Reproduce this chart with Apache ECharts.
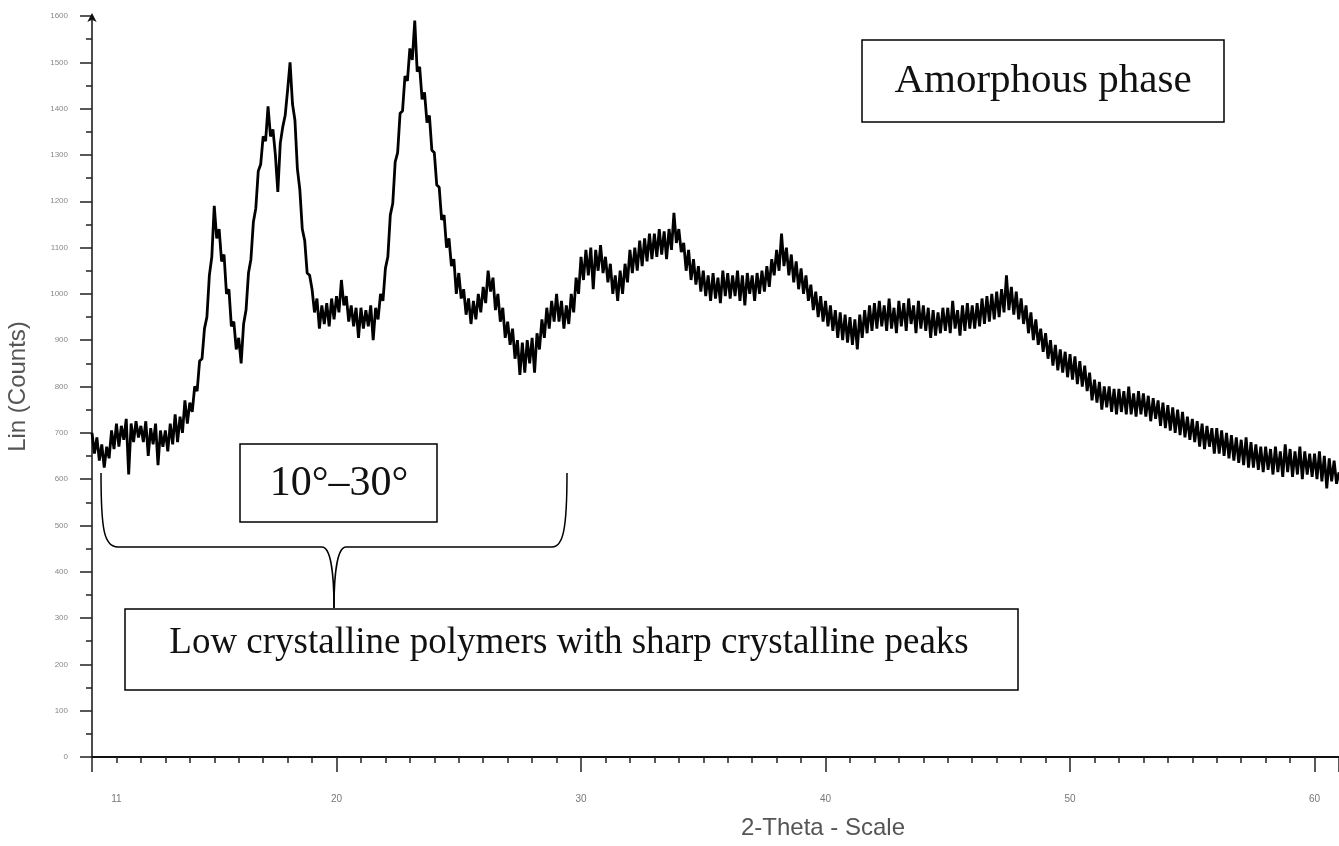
<!DOCTYPE html>
<html>
<head>
<meta charset="utf-8">
<script src="https://cdn.jsdelivr.net/npm/echarts@6/dist/echarts.min.js"></script>
<style>
html,body{margin:0;padding:0;background:#fff;}
#chart{width:1339px;height:846px;}
</style>
</head>
<body>
<div id="chart"></div>
<script>
// XRD scan: start angle and step (degrees 2-theta)
const scanStart = 10.0;
const scanStep = 0.1;

// Lin (Counts), one value per 0.1 deg
const counts10s = [ // 10.0 – 19.9
  700,655,690,640,675,625,670,645,705,665,
  720,670,715,685,730,610,720,680,725,690,
  715,680,725,650,710,675,720,630,705,670,
  705,660,720,675,740,680,735,700,770,720,
  765,745,800,790,855,860,925,950,1040,1080,
  1190,1120,1140,1070,1085,1000,1010,930,940,880,
  905,850,935,965,1045,1075,1155,1185,1265,1280,
  1340,1330,1405,1340,1355,1300,1220,1325,1360,1385,
  1440,1500,1410,1375,1270,1225,1140,1115,1045,1040,
  1010,960,990,925,975,935,980,930,990,945
];
const counts20s = [ // 20.0 – 29.9
  995,960,1030,975,995,940,975,930,970,905,
  970,925,965,930,975,900,970,945,1000,985,
  1055,1080,1170,1195,1285,1305,1390,1395,1470,1460,
  1530,1505,1590,1480,1490,1420,1435,1370,1385,1310,
  1305,1235,1230,1160,1170,1100,1120,1060,1075,1000,
  1045,990,1010,955,990,935,985,945,1000,960,
  1015,980,1050,1005,1035,965,1000,940,970,905,
  940,890,925,860,900,825,895,830,900,850,
  905,830,915,880,945,905,970,925,985,940,
  1000,940,985,925,975,935,1000,960,1035,1000
];
const counts30s = [ // 30.0 – 39.9
  1080,1030,1095,1040,1100,1010,1095,1050,1105,1045,
  1080,1025,1065,1000,1040,985,1050,1000,1065,1025,
  1095,1045,1100,1050,1115,1060,1120,1070,1130,1075,
  1130,1080,1140,1085,1135,1075,1140,1095,1175,1110,
  1140,1090,1110,1050,1095,1030,1075,1020,1060,1005,
  1050,995,1040,985,1045,990,1035,980,1050,995,
  1045,990,1040,995,1050,985,1040,975,1045,1000,
  1040,985,1045,1000,1050,1005,1060,1015,1075,1040,
  1095,1050,1130,1060,1100,1040,1085,1025,1070,1010,
  1055,1000,1040,985,1020,965,1005,950,995,940
];
const counts40s = [ // 40.0 – 49.9
  985,930,975,920,965,905,960,900,955,895,
  950,890,945,880,955,905,965,915,975,920,
  980,925,985,930,975,920,990,925,970,915,
  985,930,980,920,990,935,975,915,985,925,
  975,920,970,905,965,910,960,915,970,920,
  970,915,985,925,965,910,975,920,980,925,
  975,925,980,930,990,935,995,940,1000,945,
  1005,950,1010,960,1040,965,1015,955,1005,945,
  990,935,975,915,960,900,945,890,925,875,
  915,860,900,845,890,835,880,830,875,820
];
const counts50s = [ // 50.0 – 59.9
  870,815,865,805,855,800,845,790,830,770,
  815,765,810,750,800,755,800,745,795,740,
  795,745,790,740,800,740,785,735,790,740,
  785,735,780,725,775,730,770,715,765,710,
  760,705,755,700,750,695,745,690,735,685,
  730,680,725,670,720,665,715,670,710,655,
  710,655,705,650,700,645,695,640,690,635,
  685,630,690,625,680,625,675,620,670,615,
  670,620,665,610,670,615,660,605,675,615,
  665,605,660,610,670,600,660,610,655,605
];
const counts60s = [ // 60.0 – 61.0
  655,600,660,595,650,580,645,595,640,590,615
];

const xMajorLabels = [11, 20, 30, 40, 50, 60];
const xAxisTitle = '2-Theta - Scale';
const yAxisTitle = 'Lin (Counts)';

const allCounts = [].concat(counts10s, counts20s, counts30s, counts40s, counts50s, counts60s);
const seriesData = allCounts.map((c, i) => [Math.round((scanStart + i * scanStep) * 10) / 10, c]);

const chart = echarts.init(document.getElementById('chart'), null, {renderer: 'canvas'});
const serif = '"Liberation Serif", "DejaVu Serif", serif';
const sans = '"Liberation Sans", Arial, sans-serif';
const strokeStyle = {stroke: '#000', lineWidth: 1.5, fill: 'none'};

chart.setOption({
  animation: false,
  backgroundColor: '#ffffff',
  grid: {left: 92, right: 0, top: 16, bottom: 89, containLabel: false, outerBoundsMode: 'none'},
  xAxis: [{
    type: 'value', min: 10, max: 61, interval: 1,
    axisLine: {show: true, lineStyle: {color: '#111', width: 2}},
    axisTick: {show: true, length: 6, lineStyle: {color: '#222', width: 1.5}},
    axisLabel: {
      show: true, margin: 37, fontSize: 10, color: '#777', fontFamily: sans,
      showMinLabel: true, showMaxLabel: true,
      formatter: v => xMajorLabels.includes(Math.round(v)) ? String(Math.round(v)) : ''
    },
    splitLine: {show: false}
  }, {
    type: 'value', min: 10, max: 61, interval: 10, position: 'bottom',
    axisLine: {show: false},
    axisTick: {show: true, length: 15, lineStyle: {color: '#222', width: 1.5}},
    axisLabel: {show: false},
    splitLine: {show: false}
  }],
  yAxis: {
    type: 'value', min: 0, max: 1600, interval: 100,
    name: yAxisTitle, nameLocation: 'middle', nameGap: 62, nameRotate: 90,
    nameTextStyle: {fontSize: 24, color: '#555', fontFamily: sans},
    axisLine: {show: true, symbol: ['none', 'arrow'], symbolSize: [7, 9], symbolOffset: [0, 3], lineStyle: {color: '#111', width: 1.5}},
    axisTick: {show: true, length: 12, lineStyle: {color: '#222', width: 1.5}},
    minorTick: {show: true, splitNumber: 2, length: 6, lineStyle: {color: '#222', width: 1.5}},
    axisLabel: {margin: 24, fontSize: 8, color: '#888', fontFamily: sans, formatter: v => String(v)},
    splitLine: {show: false}
  },
  series: [{
    type: 'line',
    data: seriesData,
    showSymbol: false,
    sampling: 'none',
    lineStyle: {color: '#000', width: 2.8, join: 'bevel'},
    clip: true
  }],
  graphic: [
    {type: 'text', x: 823, y: 828, style: {text: xAxisTitle, fontSize: 24, fill: '#555', fontFamily: sans, align: 'center', verticalAlign: 'middle'}},
    {type: 'rect', shape: {x: 862, y: 40, width: 362, height: 82}, style: {fill: '#fff', stroke: '#000', lineWidth: 1.5}},
    {type: 'text', x: 1043, y: 81, style: {text: 'Amorphous phase', fontSize: 41, fill: '#111', fontFamily: serif, align: 'center', verticalAlign: 'middle'}},
    {type: 'rect', shape: {x: 240, y: 444, width: 197, height: 78}, style: {fill: '#fff', stroke: '#000', lineWidth: 1.5}},
    {type: 'text', x: 339, y: 484, style: {text: '10°–30°', fontSize: 42, fill: '#111', fontFamily: serif, align: 'center', verticalAlign: 'middle'}},
    {type: 'bezierCurve', shape: {x1: 101, y1: 473, cpx1: 101, cpy1: 530, cpx2: 104, cpy2: 547, x2: 118, y2: 547}, style: strokeStyle},
    {type: 'line', shape: {x1: 118, y1: 547, x2: 322, y2: 547}, style: strokeStyle},
    {type: 'bezierCurve', shape: {x1: 322, y1: 547, cpx1: 330, cpy1: 547, cpx2: 334, cpy2: 570, x2: 334, y2: 608}, style: strokeStyle},
    {type: 'bezierCurve', shape: {x1: 334, y1: 608, cpx1: 334, cpy1: 570, cpx2: 338, cpy2: 547, x2: 346, y2: 547}, style: strokeStyle},
    {type: 'line', shape: {x1: 346, y1: 547, x2: 552, y2: 547}, style: strokeStyle},
    {type: 'bezierCurve', shape: {x1: 552, y1: 547, cpx1: 563, cpy1: 547, cpx2: 567, cpy2: 530, x2: 567, y2: 473}, style: strokeStyle},
    {type: 'rect', shape: {x: 125, y: 609, width: 893, height: 81}, style: {fill: '#fff', stroke: '#000', lineWidth: 1.5}},
    {type: 'text', x: 569, y: 643, style: {text: 'Low crystalline polymers with sharp crystalline peaks', fontSize: 37, fill: '#111', fontFamily: serif, align: 'center', verticalAlign: 'middle'}}
  ]
});
</script>
</body>
</html>
